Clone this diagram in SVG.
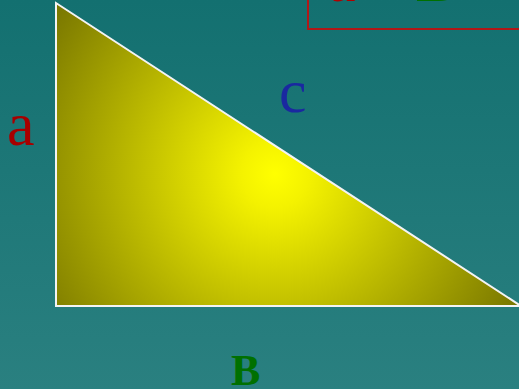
<svg xmlns="http://www.w3.org/2000/svg" width="519" height="389" viewBox="0 0 519 389">
<defs>
<linearGradient id="bg" x1="0" y1="0" x2="0" y2="1">
<stop offset="0" stop-color="#137070"/>
<stop offset="1" stop-color="#2a8080"/>
</linearGradient>
<radialGradient id="tri" gradientUnits="userSpaceOnUse" cx="275" cy="174" r="280">
<stop offset="0" stop-color="#ffff00"/>
<stop offset="0.12" stop-color="#f4f200"/>
<stop offset="1" stop-color="#767400"/>
</radialGradient>
<style>
.lbl{font-family:"Liberation Serif","Times New Roman",serif;font-size:62px}
.big{font-family:"Liberation Serif","Times New Roman",serif;font-size:44px;font-weight:bold}
</style>
</defs>
<rect width="519" height="389" fill="url(#bg)"/>
<g id="formula">
<rect x="308" y="-40" width="240" height="69" fill="none" stroke="#b01818" stroke-width="2"/>
<text class="lbl" x="328" y="1" fill="#b00000">a</text>
<text class="lbl" x="416" y="1" fill="#007000" font-weight="bold">B</text>
</g>
<g id="triangle">
<polygon points="56,3 56,306 521,306" fill="url(#tri)" stroke="#f4f4f4" stroke-width="2"/>
</g>
<g id="label-a"><text class="lbl" x="7" y="145" fill="#a80000">a</text></g>
<g id="label-c"><text class="lbl" x="279" y="112" fill="#1a28a0">c</text></g>
<g id="label-B"><text class="big" x="231" y="385" fill="#007000">B</text></g>
<g id="connectors"/>
</svg>
